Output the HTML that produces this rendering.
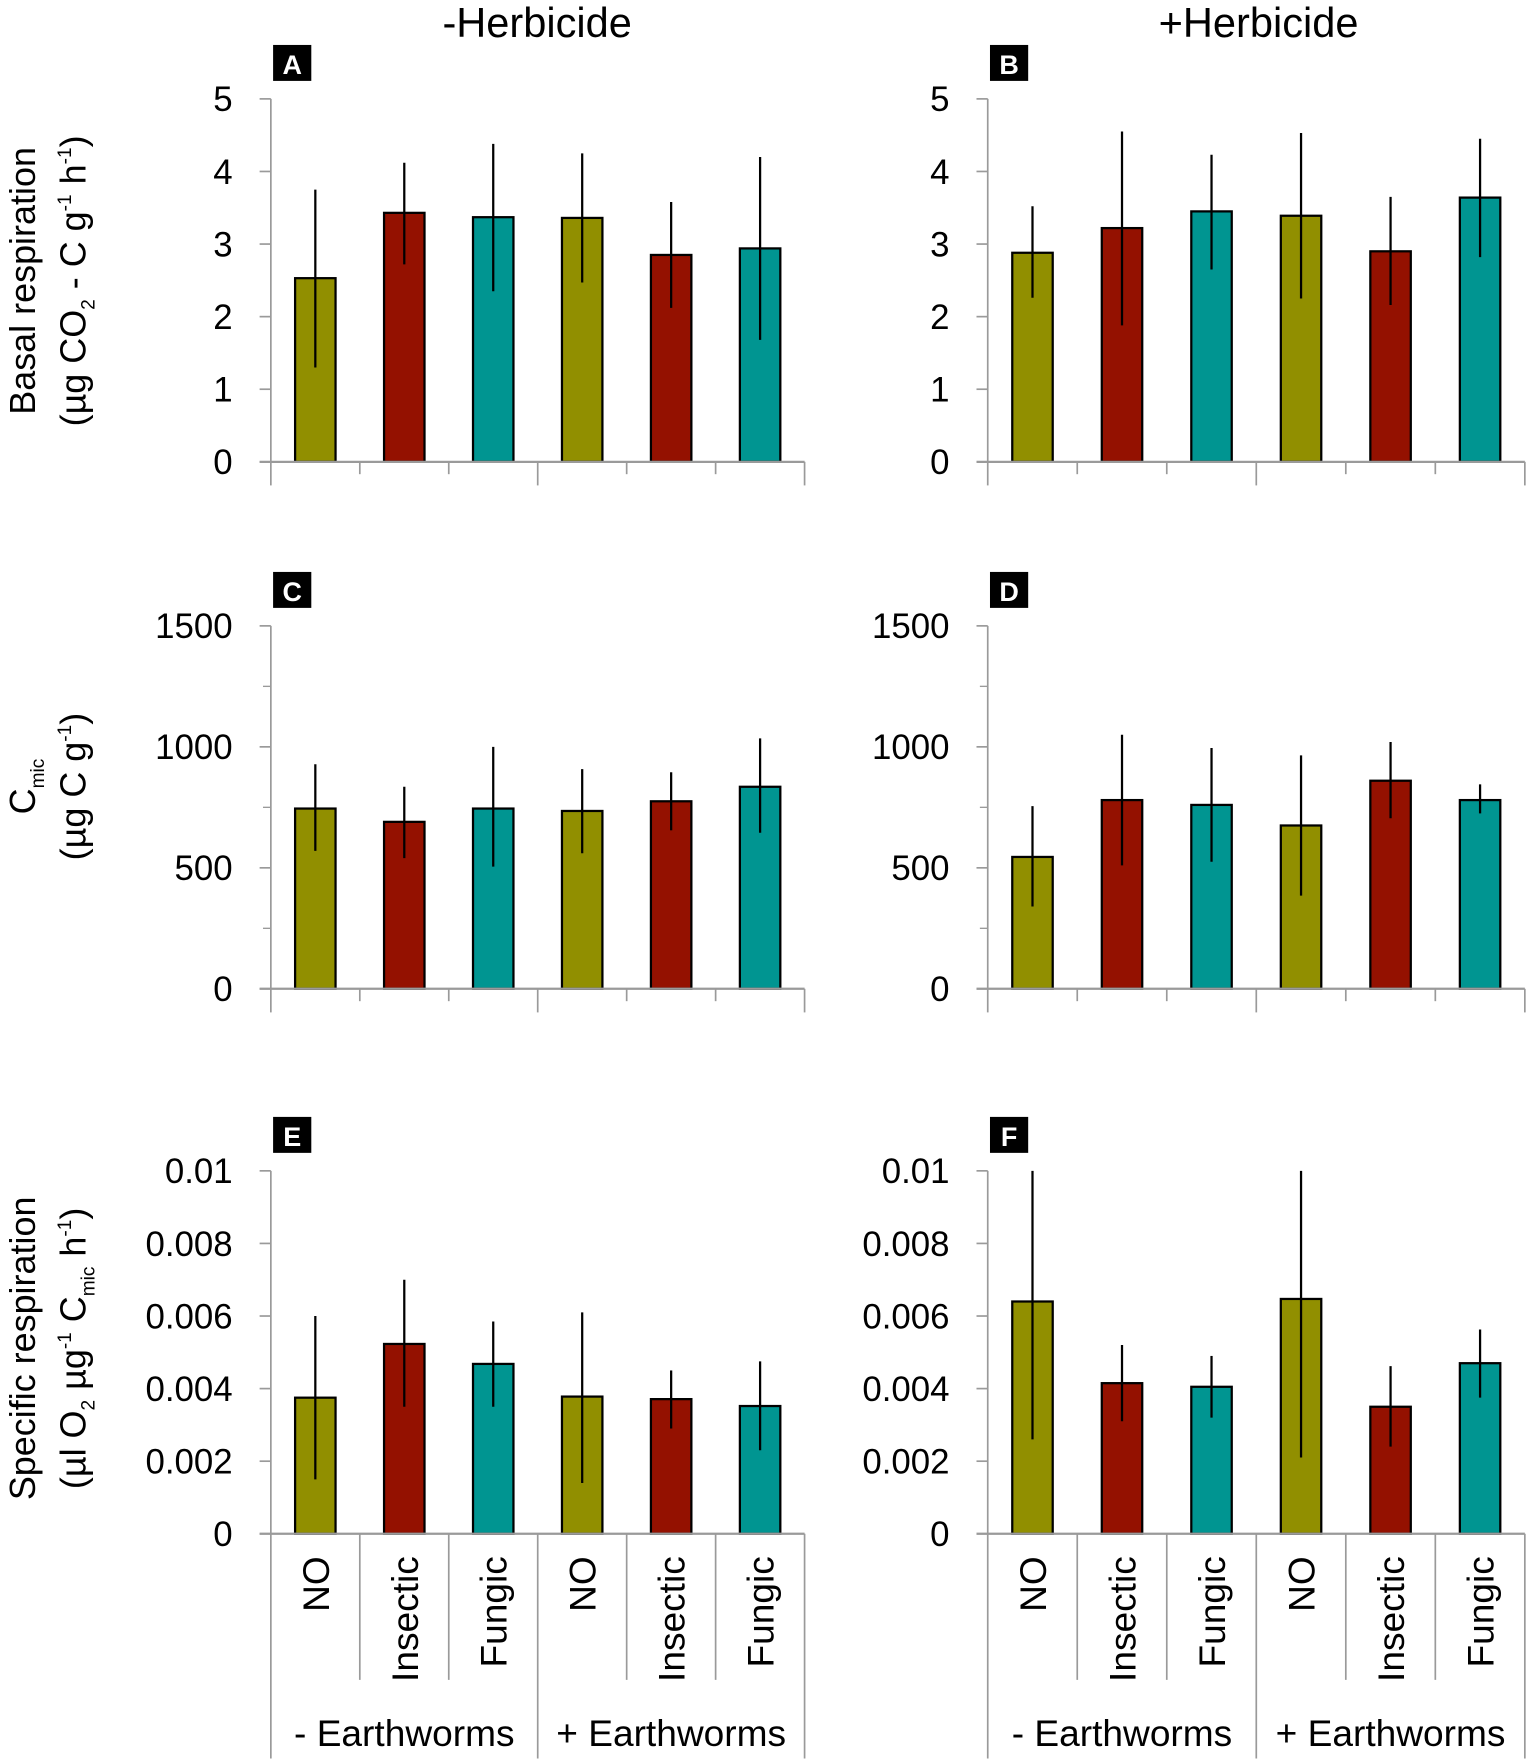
<!DOCTYPE html>
<html><head><meta charset="utf-8"><style>
html,body{margin:0;padding:0;background:#fff;}
svg{display:block;font-family:"Liberation Sans",sans-serif;}
</style></head><body>
<svg id="fig" width="1535" height="1763" viewBox="0 0 1366 1569">
<text x="478" y="33" font-size="37" text-anchor="middle">-Herbicide</text>
<text x="1120" y="33" font-size="37" text-anchor="middle">+Herbicide</text>
<g transform="translate(31,250) rotate(-90)" font-size="32" text-anchor="middle">
<text x="0" y="0">Basal respiration</text>
<text x="0" y="45">(µg CO<tspan font-size="17" dy="8">2</tspan><tspan dy="-8"> - C g</tspan><tspan font-size="17" dy="-13">-1</tspan><tspan dy="13"> h</tspan><tspan font-size="17" dy="-13">-1</tspan><tspan dy="13">)</tspan></text>
</g>
<g transform="translate(31,700) rotate(-90)" font-size="32" text-anchor="middle">
<text x="0" y="0">C<tspan font-size="17" dy="8">mic</tspan></text>
<text x="0" y="45">(µg C g<tspan font-size="17" dy="-13">-1</tspan><tspan dy="13">)</tspan></text>
</g>
<g transform="translate(31,1200) rotate(-90)" font-size="32" text-anchor="middle">
<text x="0" y="0">Specific respiration</text>
<text x="0" y="45">(µl O<tspan font-size="17" dy="8">2</tspan><tspan dy="-8"> µg</tspan><tspan font-size="17" dy="-13">-1</tspan><tspan dy="13"> C</tspan><tspan font-size="17" dy="8">mic</tspan><tspan dy="-8"> h</tspan><tspan font-size="17" dy="-13">-1</tspan><tspan dy="13">)</tspan></text>
</g>
</svg>
<script>
const categories = ["NO","Insectic","Fungic","NO","Insectic","Fungic"];
const groups = ["- Earthworms","+ Earthworms"];
const colors = ["#918f00","#941100","#009591","#918f00","#941100","#009591"];
const valsA = [2.53,3.43,3.37,3.36,2.85,2.94];
const loA = [1.3,2.72,2.35,2.47,2.12,1.68];
const hiA = [3.75,4.12,4.38,4.25,3.58,4.2];
const valsB = [2.88,3.22,3.45,3.39,2.9,3.64];
const loB = [2.26,1.88,2.65,2.25,2.16,2.82];
const hiB = [3.52,4.55,4.23,4.53,3.65,4.45];
const valsC = [745,690,745,735,775,835];
const loC = [570,540,505,560,655,645];
const hiC = [928,835,1000,908,895,1035];
const valsD = [545,780,760,675,860,780];
const loD = [340,510,525,385,705,725];
const hiD = [755,1050,995,965,1020,845];
const valsE = [0.00375,0.00523,0.00468,0.00378,0.00371,0.00352];
const loE = [0.0015,0.0035,0.0035,0.0014,0.0029,0.0023];
const hiE = [0.006,0.007,0.00585,0.0061,0.0045,0.00475];
const valsF = [0.0064,0.00415,0.00405,0.00647,0.0035,0.0047];
const loF = [0.0026,0.0031,0.0032,0.0021,0.0024,0.00375];
const hiF = [0.01,0.0052,0.0049,0.01,0.00462,0.00563];
const ticksAB = ["0","1","2","3","4","5"];
const ticksCD = ["0","500","1000","1500"];
const ticksEF = ["0","0.002","0.004","0.006","0.008","0.01"];

const NS="http://www.w3.org/2000/svg";
const svg=document.getElementById('fig');
function mk(tag,attrs,parent){const e=document.createElementNS(NS,tag);for(const k in attrs)e.setAttribute(k,attrs[k]);(parent||svg).appendChild(e);return e;}

function panel(letter,x0,x1,yTop,yBot,max,ticks,minor,vals,lo,hi,bottom){
  const g=mk('g',{});
  
  
  const y=v=>yBot-(v/max)*(yBot-yTop);
  const cw=(x1-x0)/6;
  const xc=i=>x0+cw*(i+0.5);
  const grey="#9a9a9a";
  const lb=mk('rect',{x:x0+2,y:yTop-48,width:34,height:32,fill:'#000'},g);
  
  
  const lt=mk('text',{x:x0+19,y:yTop-22,'font-size':24,'font-weight':'bold',fill:'#fff','text-anchor':'middle'},g);
  lt.textContent=letter;
  
  
  const ya=mk('line',{x1:x0,y1:yTop,x2:x0,y2:yBot,stroke:grey,'stroke-width':1.5},g);
  
  
  const step=max/(ticks.length-1);
  ticks.forEach((t,i)=>{
    const v=i*step, yy=y(v);
    mk('line',{x1:x0-10,y1:yy,x2:x0,y2:yy,stroke:grey,'stroke-width':1.5},g);
    const tx=mk('text',{x:x0-34,y:yy+11,'font-size':31,'text-anchor':'end'},g);
    tx.textContent=t;
    
    
    if(minor && i<ticks.length-1){const ym=y(v+step/2);mk('line',{x1:x0-7,y1:ym,x2:x0,y2:ym,stroke:grey,'stroke-width':1.2},g);}
  });
  vals.forEach((v,i)=>{
    const b=mk('rect',{x:xc(i)-18,y:y(v),width:36,height:yBot-y(v),fill:colors[i],stroke:'#000','stroke-width':2},g);
    
    
    const e=mk('line',{x1:xc(i),y1:y(lo[i]),x2:xc(i),y2:y(hi[i]),stroke:'#000','stroke-width':2},g);
    
    
  });
  const xa=mk('line',{x1:x0-10,y1:yBot,x2:x1,y2:yBot,stroke:grey,'stroke-width':2},g);
  
  
  for(let i=0;i<=6;i++){
    const xx=x0+cw*i, major=(i%3===0);
    let len = bottom ? (major?200:130) : (major?21:11);
    mk('line',{x1:xx,y1:yBot,x2:xx,y2:yBot+len,stroke:grey,'stroke-width':1.5},g);
  }
  if(bottom){
    categories.forEach((c,i)=>{
      const t=mk('text',{transform:`translate(${xc(i)+12},${yBot+20}) rotate(-90)`,'font-size':33,'text-anchor':'end'},g);
      t.textContent=c;
      
      
    });
    groups.forEach((gname,j)=>{
      const t=mk('text',{x:x0+cw*(3*j+1.5),y:yBot+189,'font-size':33,'text-anchor':'middle'},g);
      t.textContent=gname;
      
      
    });
  }
}
panel('A',241,716,88,411,5,ticksAB,false,valsA,loA,hiA,false);
panel('B',879,1357,88,411,5,ticksAB,false,valsB,loB,hiB,false);
panel('C',241,716,557,880,1500,ticksCD,true,valsC,loC,hiC,false);
panel('D',879,1357,557,880,1500,ticksCD,true,valsD,loD,hiD,false);
panel('E',241,716,1042,1365,0.01,ticksEF,false,valsE,loE,hiE,true);
panel('F',879,1357,1042,1365,0.01,ticksEF,false,valsF,loF,hiF,true);
</script>
</body></html>
